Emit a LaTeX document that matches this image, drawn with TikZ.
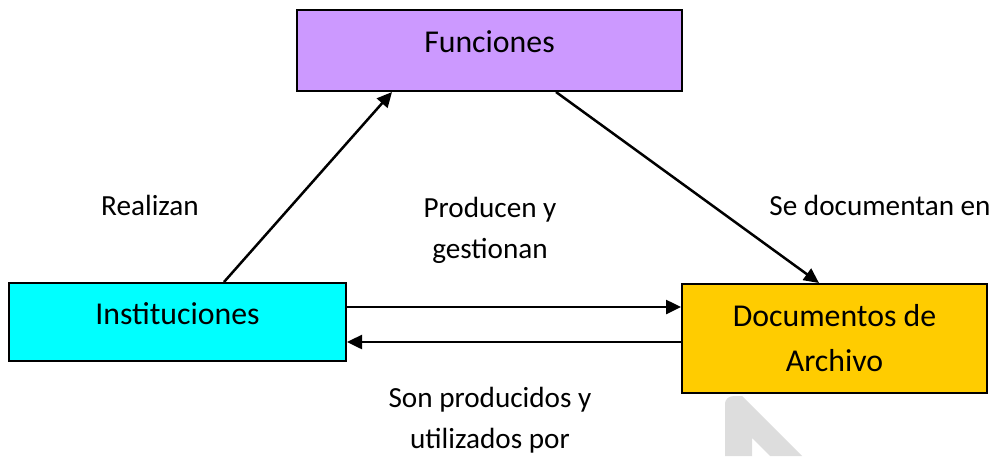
\documentclass[tikz,border=0pt]{standalone}
\usepackage{fontspec}
\setmainfont{Carlito}
\usetikzlibrary{calc,arrows.meta}
\definecolor{funcol}{HTML}{CC99FF}
\definecolor{instcol}{HTML}{00FFFF}
\definecolor{doccol}{HTML}{FFCC00}
\definecolor{wmark}{RGB}{221,221,221}
\begin{document}
\begin{tikzpicture}[x=1pt,y=-1pt,
  box/.style={draw=black, line width=2pt, inner sep=0pt, font=\fontsize{31.8}{45}\selectfont},
  lbl/.style={inner sep=0pt, align=center, anchor=base, font=\fontsize{29.2}{41}\selectfont},
  arr/.style={line width=2.5pt, -{Triangle[length=15pt,width=14pt]}}]
\useasboundingbox (0,0) rectangle (995,456);
% watermark fragment
\fill[wmark] (725,456) -- (725,405) .. controls (725,398) and (729,396) .. (735,396) -- (742,396) -- (802,456) -- (770,456) -- (752,438) -- (752,456) -- cycle;
% boxes
\node[box, fill=funcol, minimum width=385pt, text height=42pt, text depth=39pt] (fun) at (489.5,50.5) {Funciones};
\node[box, fill=instcol, minimum width=337pt, text height=41pt, text depth=37pt] (inst) at (177.5,322) {Instituciones};
\node[box, fill=doccol, minimum width=305pt, minimum height=109pt, align=center] (doc) at (834.5,338.5) {Documentos de\\Archivo};
% connectors
\draw[arr] ($(inst.north west)+(216,0)$) -- ($(fun.south west)+(96,0)$);
\draw[arr] ($(fun.south west)+(260,0)$) -- ($(doc.north west)+(138,0)$);
\draw[arr] ($(inst.north east)+(0,25)$) -- ($(doc.north west)+(0,24)$);
\draw[arr] ($(doc.north west)+(0,59)$) -- ($(inst.north east)+(0,60)$);
% labels (anchor base = baseline of last line)
\node[lbl] (l1) at (150,215) {Realizan};
\node[lbl] (l2) at (490,258) {Producen y\\gestionan};
\node[lbl] (l3) at (880,215) {Se documentan en};
\node[lbl] (l4) at (490,448) {Son producidos y\\utilizados por};
\end{tikzpicture}
\end{document}
